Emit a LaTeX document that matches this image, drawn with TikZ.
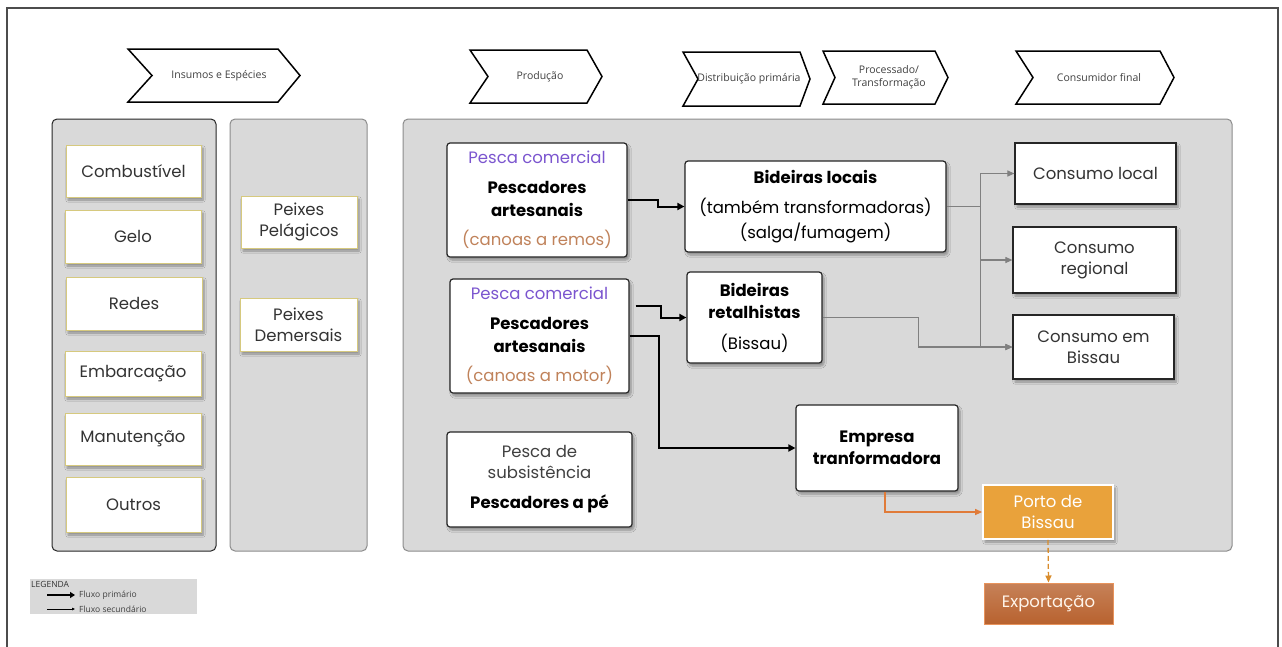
\documentclass[tikz,border=0pt]{standalone}
\usepackage{fontspec}
\setmainfont{Poppins}
\newfontfamily\chevfont{Open Sans}
\usetikzlibrary{arrows.meta,shadows.blur,calc}

\definecolor{panelgray}{HTML}{D9D9D9}
\definecolor{itemborder}{HTML}{D6C97E}
\definecolor{purpletext}{HTML}{7B55CF}
\definecolor{browntext}{HTML}{C0825A}
\definecolor{flowgray}{HTML}{808080}
\definecolor{portofill}{HTML}{E9A23B}
\definecolor{exportfill}{HTML}{B8622F}
\definecolor{exportedge}{HTML}{E8935C}
\definecolor{orangeline}{HTML}{E07B39}
\definecolor{dashorange}{HTML}{D98C2B}

\tikzset{
  softshadow/.style={blur shadow={shadow xshift=2pt,shadow yshift=-3pt,shadow blur steps=6,shadow opacity=35}},
  panel/.style={rounded corners=5pt,fill=panelgray,draw=black!45,line width=1pt},
  boxfont/.style={font=\fontsize{16.5}{21}\selectfont},
  itembox/.style={rectangle,fill=white,draw=itemborder,line width=1pt,softshadow,boxfont,
    text=black!80,align=center,inner sep=0pt},
  mainbox/.style={rectangle,rounded corners=3pt,fill=white,draw=black!85,line width=1.2pt,softshadow,
    align=center,inner sep=0pt,boxfont},
  chevron/.style={draw=black,line width=1.5pt,fill=white},
  chevtext/.style={font=\chevfont\fontsize{10.5}{13}\selectfont,text=black!75,align=center},
  prim/.style={line width=2pt,-{Triangle[length=7pt,width=7pt]}},
  sec/.style={draw=flowgray,line width=1.1pt},
  secarrow/.style={sec,-{Triangle[length=7pt,width=6pt]}},
}

\begin{document}
\begin{tikzpicture}[x=1pt,y=-1pt]
\useasboundingbox (0,0) rectangle (1282,646);

% outer frame
\draw[black!70,line width=1.3pt] (7,660) -- (7,8) -- (1278,8) -- (1278,660);

% value-chain stage chevrons
\draw[chevron] (128,49) -- (278,49) -- (300,75.5) -- (278,102) -- (128,102) -- (152,75.5) -- cycle;
\node[chevtext] (s1) at (219,75.5) {Insumos e Espécies};
\draw[chevron] (470,50) -- (587,50) -- (602,76.5) -- (587,103) -- (470,103) -- (488,76.5) -- cycle;
\node[chevtext] (s2) at (540,76.5) {Produção};
\draw[chevron] (683,52) -- (800,52) -- (810,79) -- (800,106) -- (683,106) -- (698,79) -- cycle;
\node[chevtext] (s3) at (749,79) {Distribuição primária};
\draw[chevron] (823,51) -- (935,51) -- (948,77.5) -- (935,104) -- (823,104) -- (835,77.5) -- cycle;
\node[chevtext] (s4) at (889,77.5) {Processado/\\Transformação};
\draw[chevron] (1016,51) -- (1160,51) -- (1174,77.5) -- (1160,104) -- (1016,104) -- (1033,77.5) -- cycle;
\node[chevtext] (s5) at (1099,77.5) {Consumidor final};

% column panels
\draw[panel,draw=black!85] (52,119) rectangle (216,551);
\draw[panel] (230,119) rectangle (367,551);
\draw[panel] (403,119) rectangle (1232,551);

% inputs
\node[itembox,minimum width=135pt,minimum height=52pt] (comb) at (133.5,171) {Combustível};
\node[itembox,minimum width=136pt,minimum height=53pt] (gelo) at (133,236.5) {Gelo};
\node[itembox,minimum width=136pt,minimum height=53pt] (redes) at (134,303.5) {Redes};
\node[itembox,minimum width=136pt,minimum height=45pt] (embarc) at (133,373.5) {Embarcação};
\node[itembox,minimum width=136pt,minimum height=52pt] (manut) at (133,439) {Manutenção};
\node[itembox,minimum width=135pt,minimum height=55pt] (outros) at (133.5,504.5) {Outros};

% species
\node[itembox,minimum width=116pt,minimum height=52pt] (pelag) at (299,222) {Peixes\\Pelágicos};
\node[itembox,minimum width=117pt,minimum height=53pt] (demers) at (298.5,324.5) {Peixes\\Demersais};

% production and distribution
\node[mainbox,minimum width=180pt,minimum height=114pt] (remos) at (537,200)
  {\textcolor{purpletext}{Pesca comercial}\\[9pt]
   \textbf{Pescadores}\\[2pt]\textbf{artesanais}\\[8pt]
   \textcolor{browntext}{(canoas a remos)}};
\node[mainbox,minimum width=179pt,minimum height=114pt] (motor) at (539.5,336)
  {\textcolor{purpletext}{Pesca comercial}\\[9pt]
   \textbf{Pescadores}\\[2pt]\textbf{artesanais}\\[8pt]
   \textcolor{browntext}{(canoas a motor)}};
\node[mainbox,minimum width=185pt,minimum height=95pt] (subsist) at (539.5,479.5)
  {\textcolor{black!75}{Pesca de}\\\textcolor{black!75}{subsistência}\\[9pt]\textbf{Pescadores a pé}};

\node[mainbox,minimum width=261pt,minimum height=91pt] (locais) at (815.5,206.5)
  {\textbf{Bideiras locais}\\[9pt](também transformadoras)\\[4pt](salga/fumagem)};
\node[mainbox,minimum width=135pt,minimum height=91pt] (retal) at (754.5,317.5)
  {\textbf{Bideiras}\\[1pt]\textbf{retalhistas}\\[10pt](Bissau)};
\node[mainbox,minimum width=162pt,minimum height=86pt,font=\bfseries\fontsize{16.5}{21}\selectfont] (empresa) at (877,448)
  {Empresa\\[1pt]tranformadora};

% final consumers
\node[mainbox,rounded corners=0pt,minimum width=161pt,minimum height=61pt,text=black!80] (clocal) at (1095.5,173.5) {Consumo local};
\node[mainbox,rounded corners=0pt,minimum width=163pt,minimum height=66pt,text=black!80] (cregional) at (1094.5,260) {Consumo\\regional};
\node[mainbox,rounded corners=0pt,minimum width=161pt,minimum height=64pt,text=black!80] (cbissau) at (1093.5,347) {Consumo em\\Bissau};

% export route
\node[rectangle,fill=portofill,draw=white,line width=1.8pt,softshadow,minimum width=130pt,minimum height=54pt,
  align=center,text=white,boxfont,inner sep=0pt] (porto) at (1048,512) {Porto de\\Bissau};
\node[rectangle,top color=exportfill!80!white,bottom color=exportfill,middle color=exportfill!90!white,
  draw=exportedge,line width=1pt,minimum width=129pt,minimum height=41pt,
  text=white!92!orange,boxfont,inner sep=0pt] (export) at (1048.5,603.5) {Exportação};

% primary flows
\draw[prim] (remos.east) -- ++(30,0) |- (locais.west);
\draw[prim] ([shift={(6,-30)}]motor.east) -- ++(25,0) |- (retal.west);
\draw[prim] (motor.east) -- ++(29,0) |- (empresa.west);

% secondary flows
\draw[sec] (locais.east) -- ++(34,0) coordinate (junc);
\draw[secarrow] (junc) |- (clocal.west);
\draw[secarrow] (junc) |- (cregional.west);
\draw[secarrow] (junc) |- (cbissau.west);
\draw[secarrow] (retal.east) -- ++(96,0) |- (cbissau.west);

\draw[orangeline,line width=1.3pt,-{Triangle[length=7pt,width=6pt]}] ([xshift=8pt]empresa.south) |- (porto.west);
\draw[dashorange,line width=1.3pt,dash pattern=on 5pt off 3pt,-{Triangle[length=7pt,width=6pt]}] (porto.south) -- (export.north);

% legend
\fill[panelgray] (30,579) rectangle (197,614);
\node[anchor=west,font=\chevfont\fontsize{8.5}{10}\selectfont,text=black!80,inner sep=0pt] (legtitle) at (31,584) {LEGENDA};
\coordinate (lp1) at (47,595);
\coordinate (lp2) at (75,595);
\coordinate (ls1) at (47,609);
\coordinate (ls2) at (75,609);
\draw[line width=1.8pt,-{Triangle[length=5pt,width=6pt]}] (lp1) -- (lp2);
\draw[line width=0.7pt,-{Triangle[length=3pt,width=2.5pt]}] (ls1) -- (ls2);
\node[anchor=west,font=\chevfont\fontsize{8.5}{10}\selectfont,text=black!75,inner sep=0pt] (legp) at (79,595) {Fluxo primário};
\node[anchor=west,font=\chevfont\fontsize{8.5}{10}\selectfont,text=black!75,inner sep=0pt] (legs) at (79,609) {Fluxo secundário};
\end{tikzpicture}
\end{document}
